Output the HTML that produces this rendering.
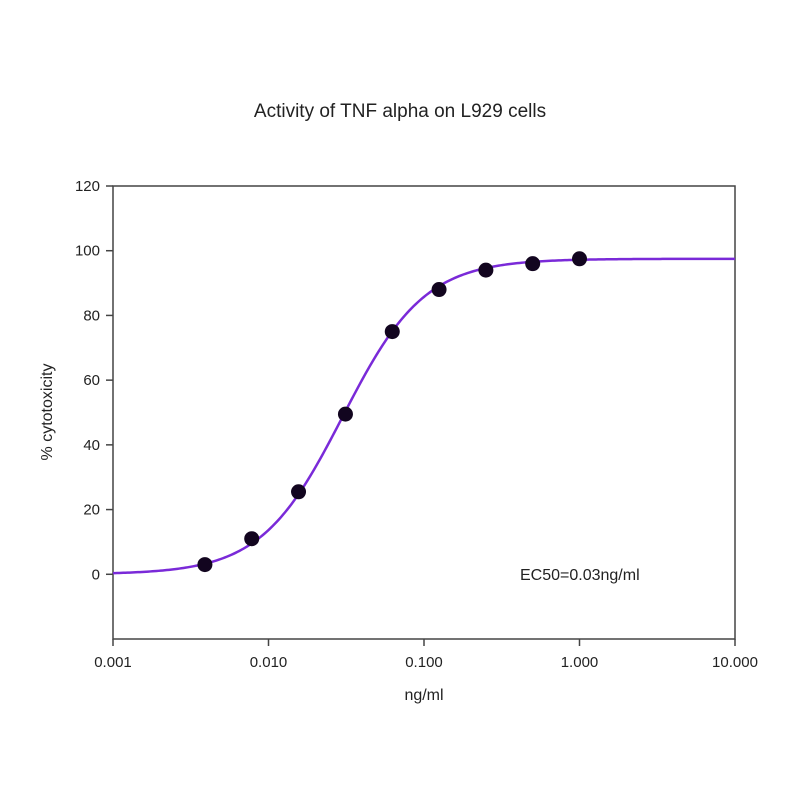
<!DOCTYPE html>
<html><head><meta charset="utf-8"><style>
body{margin:0;background:#fff}
svg{display:block;font-family:"Liberation Sans",Arial,sans-serif}
</style></head><body>
<svg id="chart" width="800" height="800" viewBox="0 0 800 800">
<text x="400" y="117" font-size="19" text-anchor="middle" fill="#222">Activity of TNF alpha on L929 cells</text>
<g id="axes"></g>
<g id="curve"></g>
<g id="points"></g>
<text x="520" y="580" font-size="16" fill="#222">EC50=0.03ng/ml</text>
<text x="424" y="700" font-size="16" text-anchor="middle" fill="#222">ng/ml</text>
<text x="0" y="0" font-size="16" text-anchor="middle" fill="#222" transform="translate(52,412) rotate(-90)">% cytotoxicity</text>
</svg>
<script>
const xTickValues=[0.001,0.01,0.1,1,10];
const xTickLabels=["0.001","0.010","0.100","1.000","10.000"];
const yTickValues=[0,20,40,60,80,100,120];
const concentrations=[0.0039,0.0078,0.0156,0.03125,0.0625,0.125,0.25,0.5,1];
const cytotoxicity=[3,11,25.5,49.5,75,88,94,96,97.5];
const fitBottom=[0];
const fitTop=[97.5];
const fitEC50=[0.03];
const fitHill=[1.65];

const L=113,R=735,T=186,B=639;
const xs=v=>L+(Math.log10(v)-(-3))/4*(R-L);
const ys=v=>B-(v-(-20))/140*(B-T);
const NS="http://www.w3.org/2000/svg";
function mk(tag,attrs,parent){const e=document.createElementNS(NS,tag);for(const k in attrs)e.setAttribute(k,attrs[k]);parent.appendChild(e);return e;}
const axes=document.getElementById('axes');
const frame=mk('rect',{x:L,y:T,width:R-L,height:B-T,fill:'none',stroke:'#444','stroke-width':1.5},axes);


xTickValues.forEach((v,i)=>{
  const t=mk('line',{x1:xs(v),x2:xs(v),y1:B,y2:B+7,stroke:'#444','stroke-width':1.5},axes);
  
  
  const tx=mk('text',{x:xs(v),y:B+28,'font-size':15,'text-anchor':'middle',fill:'#222'},axes);
  tx.textContent=xTickLabels[i];
  
  
});
yTickValues.forEach(v=>{
  const t=mk('line',{x1:L-7,x2:L,y1:ys(v),y2:ys(v),stroke:'#444','stroke-width':1.5},axes);
  
  
  const tx=mk('text',{x:L-13,y:ys(v)+5,'font-size':15,'text-anchor':'end',fill:'#222'},axes);
  tx.textContent=String(v);
  
  
});
const f=x=>fitBottom[0]+(fitTop[0]-fitBottom[0])/(1+Math.pow(fitEC50[0]/x,fitHill[0]));
let d='';
for(let i=0;i<=300;i++){const lx=-3+4*i/300;const x=Math.pow(10,lx);d+=(i?'L':'M')+xs(x).toFixed(2)+','+ys(f(x)).toFixed(2);}
const c=mk('path',{d:d,fill:'none',stroke:'#7a2ad8','stroke-width':2.5},document.getElementById('curve'));


const pg=document.getElementById('points');
concentrations.forEach((v,i)=>{
  const p=mk('circle',{cx:xs(v),cy:ys(cytotoxicity[i]),r:7.5,fill:'#12051f'},pg);
  
  
});
</script>
</body></html>
